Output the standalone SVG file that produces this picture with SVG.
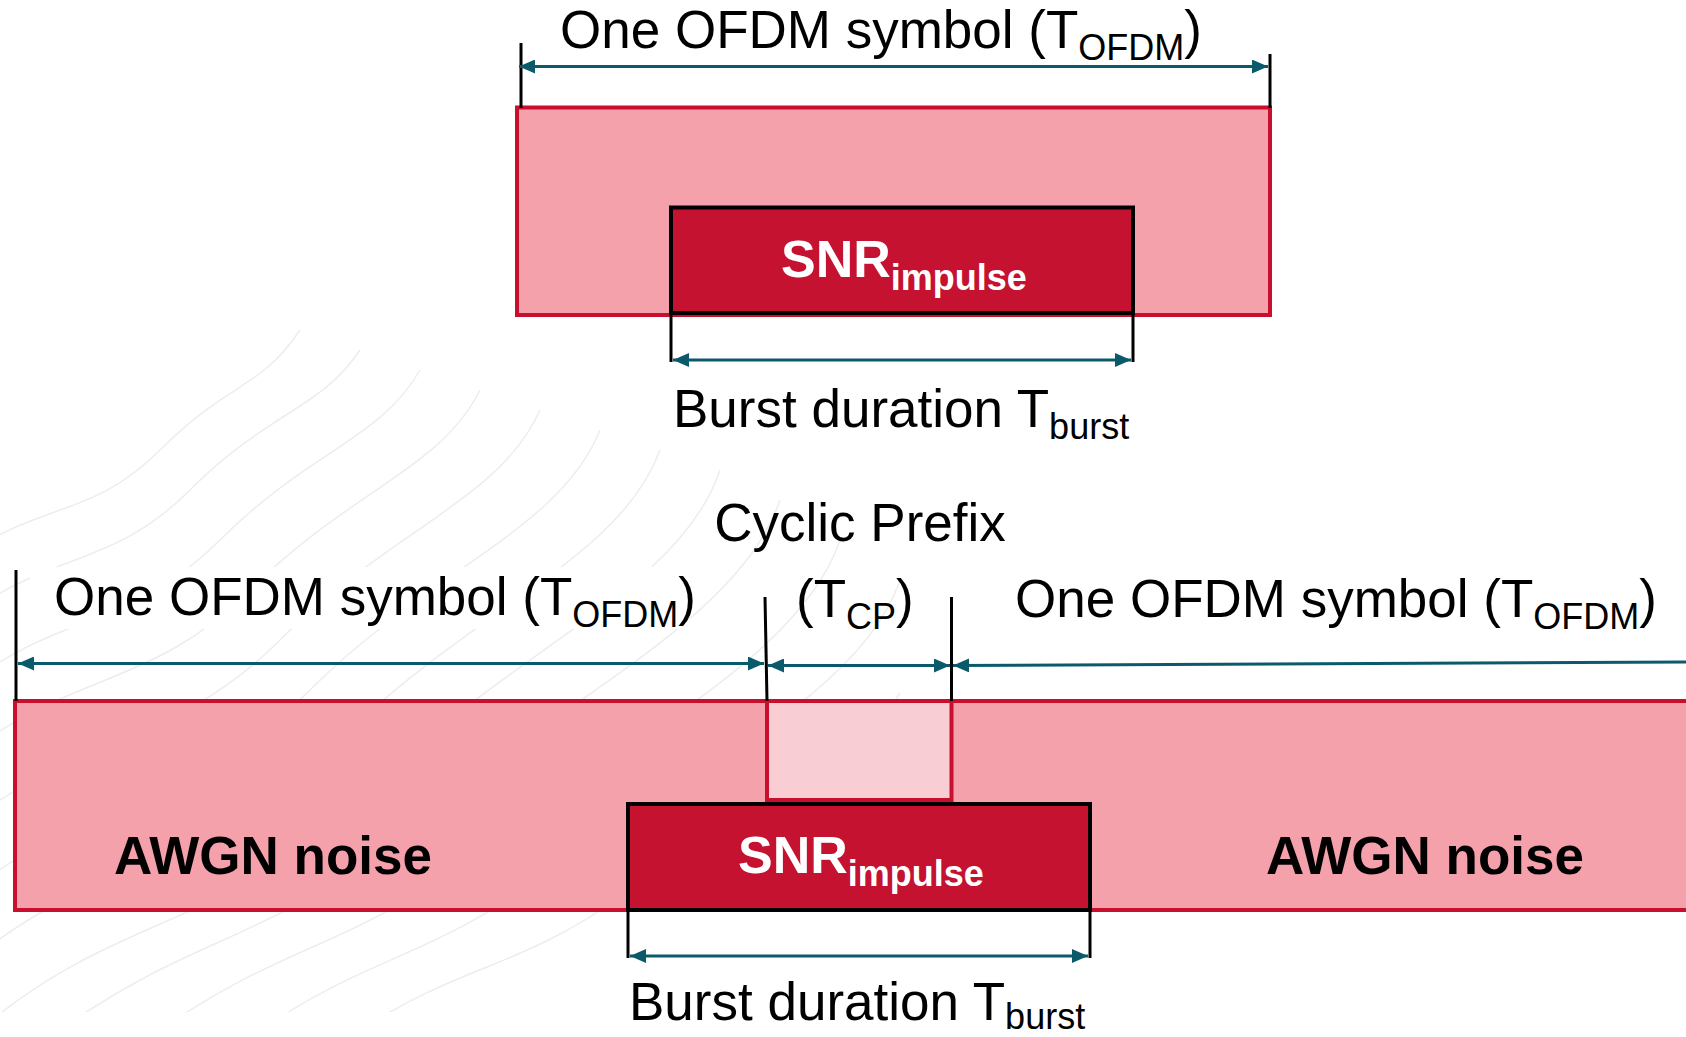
<svg xmlns="http://www.w3.org/2000/svg" width="1686" height="1037" viewBox="0 0 1686 1037">
  <style>
    .lbl { font-family: "Liberation Sans", Arial, sans-serif; font-size: 53px; fill: #000; }
    .bold { font-family: "Liberation Sans", Arial, sans-serif; font-weight: bold; font-size: 52px; }
    .awgn { font-size: 53px; fill: #000; }
    .sub { font-size: 36px; }
    .sym { fill: #f4a1ac; stroke: #c8102e; stroke-width: 4; }
    .cp { fill: #f8cdd3; stroke: #c8102e; stroke-width: 4; }
    .burst { fill: #c41230; stroke: #000; stroke-width: 4; }
    .tick { stroke: #000; stroke-width: 3; fill: none; }
    .dim { stroke: #0b5a6b; stroke-width: 3; fill: none; }
    .tex { stroke: #ededed; stroke-width: 1.5; fill: none; }
  </style>
  <defs>
    <marker id="arr" viewBox="0 0 16 14" refX="16" refY="7" markerWidth="16" markerHeight="14" markerUnits="userSpaceOnUse" orient="auto-start-reverse">
      <path d="M0,0 L16,7 L0,14 z" fill="#0b5a6b"/>
    </marker>
    <clipPath id="texClip">
      <rect x="0" y="320" width="900" height="692"/>
    </clipPath>
  </defs>

  <rect width="1686" height="1037" fill="#fff"/>

  <!-- faint wavy background texture -->
  <g id="texture" class="tex" clip-path="url(#texClip)">
    <path d="M-40,560 C40,500 90,520 160,450 S260,390 300,330"/>
    <path d="M-40,620 C50,550 110,570 190,490 S320,410 360,350"/>
    <path d="M-40,690 C60,610 130,630 220,540 S380,440 420,370"/>
    <path d="M-40,760 C70,670 150,690 250,590 S440,470 480,390"/>
    <path d="M-40,830 C80,730 170,750 280,640 S500,500 540,410"/>
    <path d="M-40,900 C90,790 190,810 310,690 S560,530 600,430"/>
    <path d="M-40,970 C100,850 210,870 340,740 S620,560 660,450"/>
    <path d="M-20,1030 C120,910 230,930 370,790 S680,590 720,470"/>
    <path d="M60,1030 C200,930 280,940 420,820 S740,620 780,500"/>
    <path d="M160,1030 C290,940 350,950 480,850 S800,660 840,540"/>
    <path d="M260,1030 C380,950 430,960 550,870 S860,700 900,580"/>
    <path d="M360,1030 C470,960 520,970 630,890 S900,760 920,640"/>
  </g>
  <!-- label backdrop -->
  <rect x="30" y="567" width="660" height="62" fill="#fff"/>

  <!-- top: one OFDM symbol with an impulse burst -->
  <g id="top-symbol">
    <rect class="sym" x="517" y="107.5" width="753" height="207.5"/>
  </g>
  <g id="top-burst">
    <rect class="burst" x="671" y="207.5" width="462" height="105.5"/>
    <text class="bold" x="781" y="277" fill="#fff">SNR<tspan class="sub" dy="13">impulse</tspan></text>
  </g>

  <!-- bottom: two OFDM symbols around the cyclic prefix -->
  <g id="bottom-symbols">
    <rect class="sym" x="15" y="701" width="1690" height="209"/>
    <text class="bold awgn" x="114" y="874">AWGN noise</text>
    <text class="bold awgn" x="1266" y="874">AWGN noise</text>
  </g>
  <g id="cyclic-prefix">
    <rect class="cp" x="767" y="701" width="184.5" height="99"/>
  </g>
  <g id="bottom-burst">
    <rect class="burst" x="628" y="804" width="462" height="106"/>
    <text class="bold" x="738" y="873" fill="#fff">SNR<tspan class="sub" dy="13">impulse</tspan></text>
  </g>

  <!-- extension ticks and dimension arrows -->
  <g id="connectors">
    <line class="tick" x1="521" y1="43" x2="521" y2="108"/>
    <line class="tick" x1="1270" y1="54" x2="1270" y2="108"/>
    <line class="tick" x1="671" y1="313" x2="671" y2="362"/>
    <line class="tick" x1="1133" y1="313" x2="1133" y2="362"/>
    <line class="tick" x1="16" y1="570" x2="16" y2="701"/>
    <line class="tick" x1="765" y1="597" x2="767" y2="701"/>
    <line class="tick" x1="951.5" y1="597" x2="951.5" y2="701"/>
    <line class="tick" x1="628" y1="910" x2="628" y2="958"/>
    <line class="tick" x1="1090" y1="910" x2="1090" y2="958"/>

    <line class="dim" x1="519" y1="66.5" x2="1268" y2="66.5" marker-start="url(#arr)" marker-end="url(#arr)"/>
    <line class="dim" x1="673" y1="360" x2="1131" y2="360" marker-start="url(#arr)" marker-end="url(#arr)"/>
    <line class="dim" x1="18" y1="663.5" x2="764" y2="663.5" marker-start="url(#arr)" marker-end="url(#arr)"/>
    <line class="dim" x1="768" y1="665.5" x2="950" y2="665.5" marker-start="url(#arr)" marker-end="url(#arr)"/>
    <line class="dim" x1="953" y1="665.5" x2="1690" y2="662" marker-start="url(#arr)"/>
    <line class="dim" x1="630" y1="956" x2="1088" y2="956" marker-start="url(#arr)" marker-end="url(#arr)"/>
  </g>

  <!-- dimension labels -->
  <g id="labels">
    <text class="lbl" x="560" y="48">One OFDM symbol (T<tspan class="sub" dy="12">OFDM</tspan><tspan dy="-12">)</tspan></text>
    <text class="lbl" x="673" y="427">Burst duration T<tspan class="sub" dy="12">burst</tspan></text>
    <text class="lbl" x="860" y="541" text-anchor="middle">Cyclic Prefix</text>
    <text class="lbl" x="796" y="617">(T<tspan class="sub" dy="12">CP</tspan><tspan dy="-12">)</tspan></text>
    <text class="lbl" x="54" y="615">One OFDM symbol (T<tspan class="sub" dy="12">OFDM</tspan><tspan dy="-12">)</tspan></text>
    <text class="lbl" x="1015" y="617">One OFDM symbol (T<tspan class="sub" dy="12">OFDM</tspan><tspan dy="-12">)</tspan></text>
    <text class="lbl" x="629" y="1020">Burst duration T<tspan class="sub" dy="9">burst</tspan></text>
  </g>
</svg>
